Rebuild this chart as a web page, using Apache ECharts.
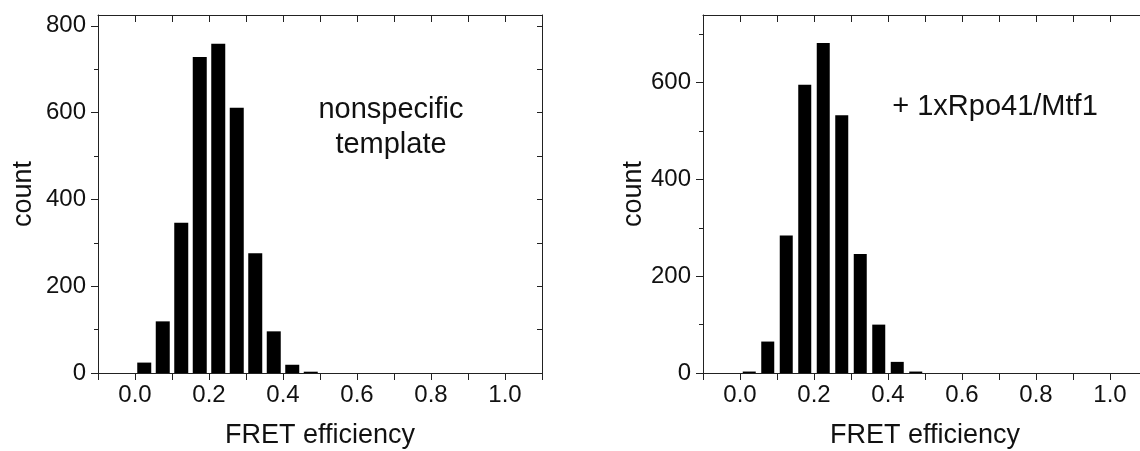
<!DOCTYPE html>
<html>
<head>
<meta charset="utf-8">
<script src="https://cdn.jsdelivr.net/npm/echarts@6/dist/echarts.min.js"></script>
<style>
html,body{margin:0;padding:0;background:#fff;}
#chart{width:1140px;height:451px;}
</style>
</head>
<body>
<div id="chart"></div>
<script>
// ---- data ----
const binCenters = [0.025, 0.075, 0.125, 0.175, 0.225, 0.275, 0.325, 0.375, 0.425, 0.475];
const countsNonspecific = [24, 119, 346, 728, 759, 611, 276, 96, 19, 3];
const countsRpo41Mtf1 = [3, 65, 284, 596, 682, 533, 246, 100, 23, 3];
const xTickLabels = [0.0, 0.2, 0.4, 0.6, 0.8, 1.0];
const yMajorLeft = [0, 200, 400, 600, 800];
const yMinorLeft = [100, 300, 500, 700];
const yMajorRight = [0, 200, 400, 600];
const yMinorRight = [100, 300, 500, 700];
const xLabel = 'FRET efficiency';
const yLabel = 'count';
const noteLeft = 'nonspecific\ntemplate';
const noteRight = '+ 1xRpo41/Mtf1';

const FONT = "'Liberation Sans', Arial, sans-serif";
const INK = '#111';
const LINE = '#222';

const chart = echarts.init(document.getElementById('chart'), null, {renderer: 'canvas'});

function xBottom(gridIndex) {
  return {
    type: 'value', gridIndex, position: 'bottom', min: -0.1, max: 1.1, interval: 0.1,
    axisLine: {show: true, onZero: false, lineStyle: {color: LINE, width: 1}},
    axisTick: {show: true, inside: false, length: 7, lineStyle: {color: LINE}},
    splitLine: {show: false},
    axisLabel: {
      show: true, margin: 10, fontSize: 24, fontFamily: FONT, color: INK,
      formatter: v => xTickLabels.some(t => Math.abs(t - v) < 1e-6) ? v.toFixed(1) : ''
    },
    name: xLabel, nameLocation: 'middle', nameGap: 49,
    nameTextStyle: {fontSize: 27, fontFamily: FONT, color: INK}
  };
}
function xTop(gridIndex) {
  return {
    type: 'value', gridIndex, position: 'top', min: -0.1, max: 1.1, interval: 0.1,
    axisLine: {show: true, onZero: false, lineStyle: {color: LINE, width: 1}},
    axisTick: {show: true, inside: true, length: 7, lineStyle: {color: LINE}},
    splitLine: {show: false}, axisLabel: {show: false}
  };
}
function yMain(gridIndex, max, major, gap) {
  return {
    type: 'value', gridIndex, position: 'left', min: 0, max: max, interval: 100,
    axisLine: {show: true, onZero: false, lineStyle: {color: LINE, width: 1}},
    axisTick: {show: true, inside: false, length: 7, customValues: major, lineStyle: {color: LINE}},
    splitLine: {show: false},
    axisLabel: {
      show: true, margin: 12, fontSize: 24, fontFamily: FONT, color: INK,
      customValues: major,
      formatter: v => major.indexOf(Math.round(v)) >= 0 ? String(Math.round(v)) : ''
    },
    name: yLabel, nameLocation: 'middle', nameGap: gap, nameRotate: 90,
    nameTextStyle: {fontSize: 27, fontFamily: FONT, color: INK}
  };
}
function yMinor(gridIndex, max, minor) {
  return {
    type: 'value', gridIndex, position: 'left', min: 0, max: max, interval: 100,
    axisLine: {show: false, onZero: false},
    axisTick: {show: true, inside: false, length: 4, customValues: minor, lineStyle: {color: LINE}},
    splitLine: {show: false}, axisLabel: {show: false}
  };
}
function yRight(gridIndex, max, all) {
  return {
    type: 'value', gridIndex, position: 'right', min: 0, max: max, interval: 100,
    axisLine: {show: true, onZero: false, lineStyle: {color: LINE, width: 1}},
    axisTick: {show: true, inside: true, length: 5, customValues: all, lineStyle: {color: LINE}},
    splitLine: {show: false}, axisLabel: {show: false}
  };
}

const allLeft = yMajorLeft.concat(yMinorLeft);
const allRight = yMajorRight.concat(yMinorRight);

const option = {
  backgroundColor: '#fff',
  animation: false,
  grid: [
    {left: 98, top: 15, width: 444, height: 358, containLabel: false, outerBoundsMode: 'none'},
    {left: 703, top: 15, width: 444, height: 358, containLabel: false, outerBoundsMode: 'none'}
  ],
  xAxis: [xBottom(0), xTop(0), xBottom(1), xTop(1)],
  yAxis: [
    yMain(0, 825, yMajorLeft, 61), yMinor(0, 825, yMinorLeft), yRight(0, 825, allLeft),
    yMain(1, 740, yMajorRight, 56), yMinor(1, 740, yMinorRight), yRight(1, 740, allRight)
  ],
  series: [
    {
      type: 'bar', xAxisIndex: 0, yAxisIndex: 0, barWidth: 14,
      itemStyle: {color: '#000'},
      data: binCenters.map((x, i) => [x, countsNonspecific[i]])
    },
    {
      type: 'bar', xAxisIndex: 2, yAxisIndex: 3, barWidth: 13,
      itemStyle: {color: '#000'},
      data: binCenters.map((x, i) => [x, countsRpo41Mtf1[i]])
    }
  ],
  graphic: [
    {
      type: 'text', x: 391, y: 127,
      style: {text: noteLeft, font: '29px ' + FONT, fill: INK, textAlign: 'center', textVerticalAlign: 'middle', lineHeight: 35}
    },
    {
      type: 'text', x: 995, y: 107,
      style: {text: noteRight, font: '29px ' + FONT, fill: INK, textAlign: 'center', textVerticalAlign: 'middle'}
    }
  ]
};
chart.setOption(option);
</script>
</body>
</html>
